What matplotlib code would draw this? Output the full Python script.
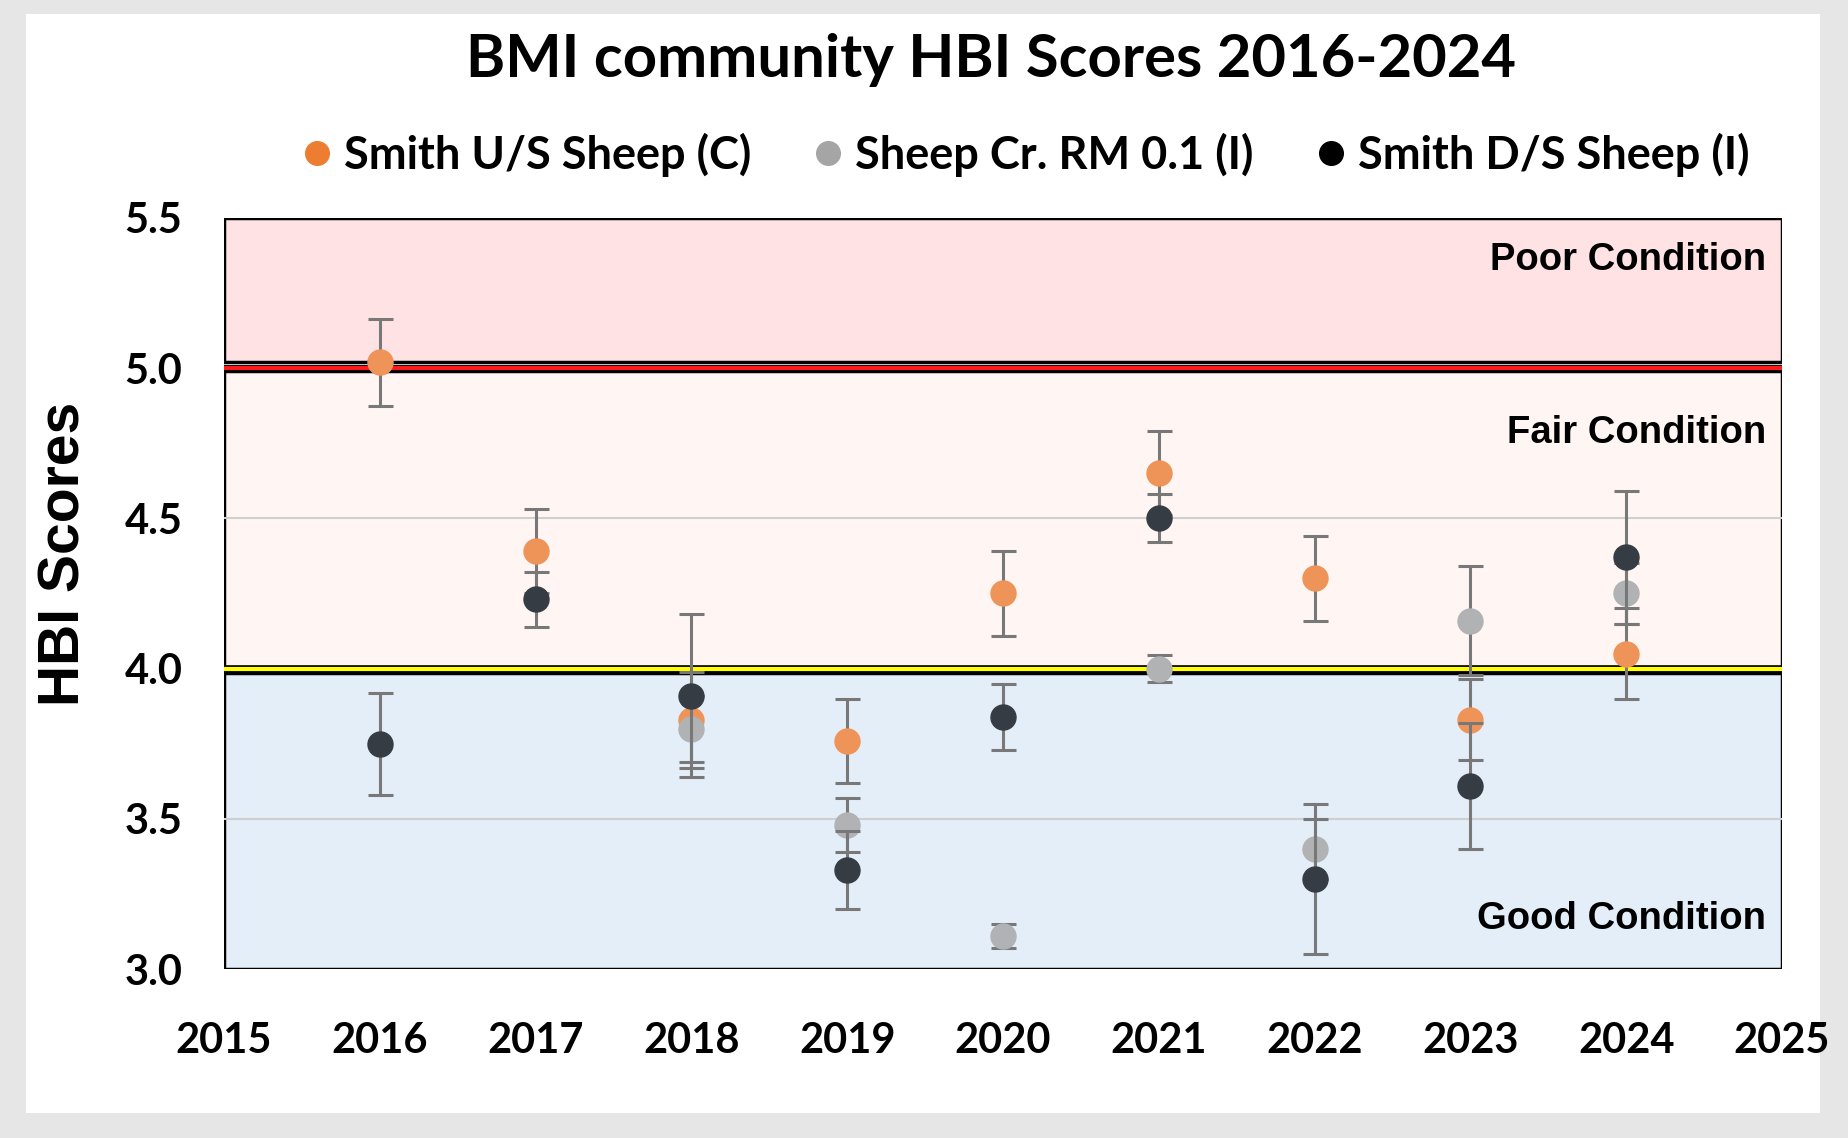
import numpy as np
import matplotlib
matplotlib.use('Agg')
import matplotlib.pyplot as plt
from matplotlib.lines import Line2D
from matplotlib.patches import Rectangle
import matplotlib.patheffects as pe

# data
years = [2016, 2017, 2018, 2019, 2020, 2021, 2022, 2023, 2024]
series_names = ['Smith U/S Sheep (C)', 'Sheep Cr. RM 0.1 (I)', 'Smith D/S Sheep (I)']
smith_us = [5.02, 4.39, 3.83, 3.76, 4.25, 4.65, 4.30, 3.83, 4.05]
smith_us_err = [0.145, 0.14, 0.16, 0.14, 0.14, 0.14, 0.14, 0.135, 0.15]
sheep_cr = [np.nan, np.nan, 3.80, 3.48, 3.11, 4.00, 3.40, 4.16, 4.25]
sheep_cr_err = [0, 0, 0.11, 0.09, 0.04, 0.045, 0.10, 0.18, 0.10]
smith_ds = [3.75, 4.23, 3.91, 3.33, 3.84, 4.50, 3.30, 3.61, 4.37]
smith_ds_err = [0.17, 0.09, 0.27, 0.13, 0.11, 0.08, 0.25, 0.21, 0.22]

x_ticks = list(range(2015, 2026))
y_ticks = [3.0, 3.5, 4.0, 4.5, 5.0, 5.5]

fig = plt.figure(figsize=(18.48, 11.38), dpi=100)
fig.patch.set_facecolor('#e6e6e6')
card = Rectangle((0.014, 0.022), 0.971, 0.966, transform=fig.transFigure,
                 facecolor='white', edgecolor='none', zorder=-5)
fig.patches.append(card)

ax = fig.add_axes([0.1212, 0.1485, 0.8431, 0.66])
ax.set_xlim(2015, 2025)
ax.set_ylim(3.0, 5.5)

# condition bands
ax.axhspan(5.02, 5.5, facecolor='#ffe3e4', edgecolor='black', lw=2.5, zorder=0)
ax.axhspan(4.0, 4.99, facecolor='#fff6f3', edgecolor='black', lw=2.5, zorder=0)
ax.axhspan(3.0, 3.985, facecolor='#e4eef8', edgecolor='black', lw=2.5, zorder=0)
for g in [3.5, 4.5]:
    ax.axhline(g, color='#cfcfcf', lw=1.5, zorder=1)
ax.axhline(5.0, color='#ff1a1a', lw=3, zorder=2,
           path_effects=[pe.Stroke(linewidth=5, foreground='black'), pe.Normal()])
ax.axhline(4.0, color='#ffff00', lw=3, zorder=2,
           path_effects=[pe.Stroke(linewidth=5.5, foreground='black'), pe.Normal()])

ax.text(2024.9, 5.36, 'Poor Condition', ha='right', va='center', fontsize=27.5,
        fontweight='bold', family='Liberation Sans', zorder=3)
ax.text(2024.9, 4.785, 'Fair Condition', ha='right', va='center', fontsize=27.5,
        fontweight='bold', family='Liberation Sans', zorder=3)
ax.text(2024.9, 3.165, 'Good Condition', ha='right', va='center', fontsize=27.5,
        fontweight='bold', family='Liberation Sans', zorder=3)

ecol = '#787878'
ax.errorbar(years, smith_us, yerr=smith_us_err, fmt='o', ms=18, color='#ef9459',
            ecolor=ecol, elinewidth=2.2, capsize=9, capthick=2.2, zorder=4)
ax.errorbar(years, sheep_cr, yerr=sheep_cr_err, fmt='o', ms=18, color='#b0b2b4',
            ecolor=ecol, elinewidth=2.2, capsize=9, capthick=2.2, zorder=5)
ax.errorbar(years, smith_ds, yerr=smith_ds_err, fmt='o', ms=18, color='#363c44',
            ecolor=ecol, elinewidth=2.2, capsize=9, capthick=2.2, zorder=6)

ax.set_xticks(x_ticks)
ax.set_xticklabels([str(t) for t in x_ticks])
ax.set_yticks(y_ticks)
ax.set_yticklabels([f'{t:.1f}' for t in y_ticks])
ax.tick_params(axis='both', length=0, labelsize=30)
ax.tick_params(axis='x', pad=38)
ax.tick_params(axis='y', pad=30)
for lab in ax.get_xticklabels() + ax.get_yticklabels():
    lab.set_fontweight('bold')
    lab.set_family('Lato')
for s in ax.spines.values():
    s.set_visible(False)

ax.set_ylabel('HBI Scores', fontsize=41, fontweight='bold', family='Liberation Sans')
ax.yaxis.set_label_coords(-0.085, 0.553)

fig.text(0.536, 0.947, 'BMI community HBI Scores 2016-2024', ha='center', va='center',
         fontsize=43, fontweight='bold', family='Lato')

handles = [Line2D([], [], marker='o', ls='none', ms=17, color=c)
           for c in ['#ed7d31', '#a5a5a5', '#000000']]
fig.legend(handles, series_names, loc='center', bbox_to_anchor=(0.553, 0.864), ncol=3,
           frameon=False, prop={'family': 'Lato', 'size': 32.5, 'weight': 'bold'},
           handletextpad=0.1, columnspacing=1.2, handlelength=1.0)

fig.savefig('out.png', dpi=100, facecolor=fig.get_facecolor())
